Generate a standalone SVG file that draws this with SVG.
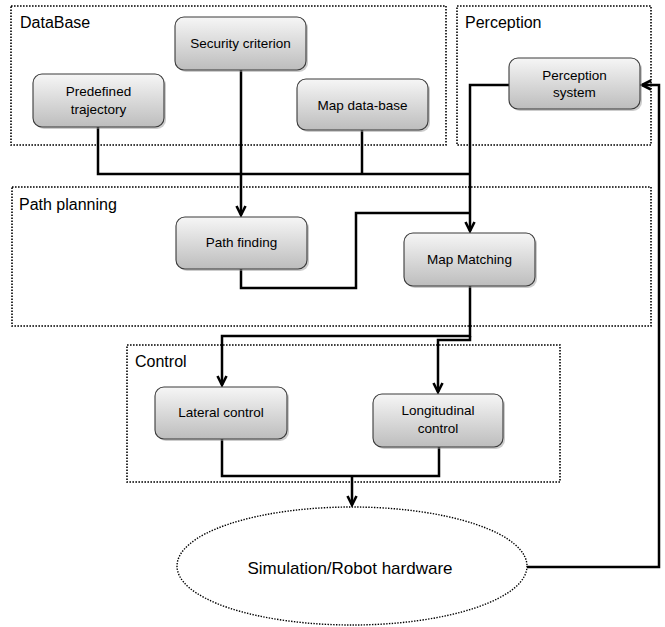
<svg xmlns="http://www.w3.org/2000/svg" width="665" height="627" viewBox="0 0 665 627">
<style>
.cont{fill:none;stroke:#000;stroke-width:1.6;stroke-dasharray:1.6 1.4}
.box{fill:url(#g);stroke:#3a3a3a;stroke-width:1.1}
.sh{fill:#9a9a9a;opacity:0.5}
.lbl{font-family:"Liberation Sans",Arial,sans-serif;font-size:16px;fill:#000}
.t{font-family:"Liberation Sans",Arial,sans-serif;font-size:13.5px;fill:#000;text-anchor:middle}
.c{fill:none;stroke:#000;stroke-width:2.5;stroke-linejoin:miter}
</style>
<defs>
<linearGradient id="g" x1="0" y1="0" x2="0" y2="1">
<stop offset="0" stop-color="#f6f6f6"/>
<stop offset="1" stop-color="#bdbdbd"/>
</linearGradient>
<marker id="a" viewBox="0 0 12 12" refX="10" refY="6" markerWidth="12" markerHeight="12" markerUnits="userSpaceOnUse" orient="auto">
<path d="M1,1.5 L10,6 L1,10.5" fill="none" stroke="#000" stroke-width="2.6"/>
</marker>
</defs>
<g id="containers">
<rect class="cont" x="11" y="6" width="435" height="139"/>
<text class="lbl" x="20" y="28">DataBase</text>
<rect class="cont" x="457" y="6" width="194" height="139"/>
<text class="lbl" x="465" y="28">Perception</text>
<rect class="cont" x="12" y="187" width="639" height="139"/>
<text class="lbl" x="19" y="210">Path planning</text>
<rect class="cont" x="127" y="345" width="433" height="137"/>
<text class="lbl" x="135" y="367">Control</text>
</g>
<g id="connectors">
<polyline class="c" points="98,127 98,174 470,174"/>
<polyline class="c" points="362,130 362,174"/>
<polyline class="c" points="241,70 241,215" marker-end="url(#a)"/>
<polyline class="c" points="509,85 470,85 470,231" marker-end="url(#a)"/>
<polyline class="c" points="241,269 241,288 356,288 356,213 470,213"/>
<polyline class="c" points="470,286 470,336 222,336 222,385" marker-end="url(#a)"/>
<polyline class="c" points="470,336 470,340 438,340 438,392" marker-end="url(#a)"/>
<polyline class="c" points="222,439 222,476 439,476 439,447"/>
<polyline class="c" points="352,476 352,505" marker-end="url(#a)"/>
<polyline class="c" points="527,567 659,567 659,85 642,85" marker-end="url(#a)"/>
</g>
<g id="security-criterion">
<rect class="sh" x="177" y="19" width="131" height="53" rx="9"/>
<rect class="box" x="175" y="17" width="131" height="53" rx="9"/>
<text class="t" x="240.5" y="48">Security criterion</text>
</g>
<g id="predefined-trajectory">
<rect class="sh" x="35" y="76" width="131" height="53" rx="9"/>
<rect class="box" x="33" y="74" width="131" height="53" rx="9"/>
<text class="t" x="98.5" y="96">Predefined</text>
<text class="t" x="98.5" y="114">trajectory</text>
</g>
<g id="map-database">
<rect class="sh" x="299" y="81" width="131" height="51" rx="9"/>
<rect class="box" x="297" y="79" width="131" height="51" rx="9"/>
<text class="t" x="362.5" y="110">Map data-base</text>
</g>
<g id="perception-system">
<rect class="sh" x="511" y="60" width="131" height="51" rx="9"/>
<rect class="box" x="509" y="58" width="131" height="51" rx="9"/>
<text class="t" x="574.5" y="80">Perception</text>
<text class="t" x="574.5" y="97">system</text>
</g>
<g id="path-finding">
<rect class="sh" x="178" y="219" width="131" height="52" rx="9"/>
<rect class="box" x="176" y="217" width="131" height="52" rx="9"/>
<text class="t" x="241.5" y="247">Path finding</text>
</g>
<g id="map-matching">
<rect class="sh" x="406" y="235" width="131" height="53" rx="9"/>
<rect class="box" x="404" y="233" width="131" height="53" rx="9"/>
<text class="t" x="469.5" y="264">Map Matching</text>
</g>
<g id="lateral-control">
<rect class="sh" x="157" y="389" width="132" height="52" rx="9"/>
<rect class="box" x="155" y="387" width="132" height="52" rx="9"/>
<text class="t" x="221" y="417">Lateral control</text>
</g>
<g id="longitudinal-control">
<rect class="sh" x="375" y="396" width="130" height="53" rx="9"/>
<rect class="box" x="373" y="394" width="130" height="53" rx="9"/>
<text class="t" x="438" y="415">Longitudinal</text>
<text class="t" x="438" y="433">control</text>
</g>
<g id="simulation-robot-hardware">
<ellipse cx="352" cy="566" rx="175" ry="59" fill="none" stroke="#000" stroke-width="1.4" stroke-dasharray="1.4 1.4"/>
<text x="350" y="574" font-family="Liberation Sans, Arial, sans-serif" font-size="17" text-anchor="middle">Simulation/Robot hardware</text>
</g>
</svg>
